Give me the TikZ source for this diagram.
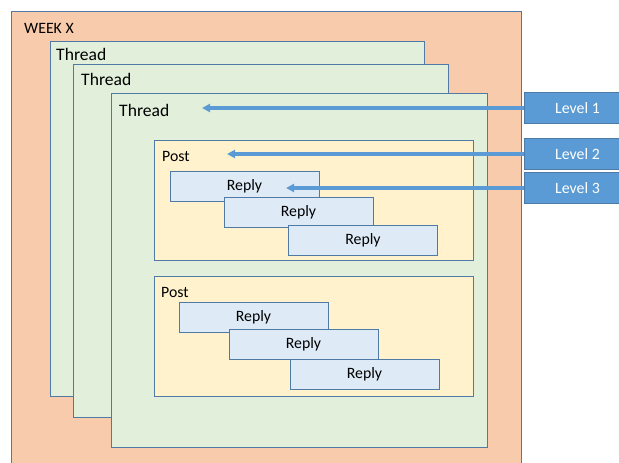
\documentclass[tikz,border=0pt]{standalone}
\usepackage{fontspec}
\setmainfont{Carlito}
\usetikzlibrary{arrows.meta}
\definecolor{edge}{HTML}{4F7AA6}
\definecolor{weekfill}{HTML}{F8CBAD}
\definecolor{threadfill}{HTML}{E2EFDA}
\definecolor{postfill}{HTML}{FFF2CC}
\definecolor{replyfill}{HTML}{DEEBF7}
\definecolor{levelfill}{HTML}{5B9BD5}

\begin{document}
\begin{tikzpicture}[x=0.03cm,y=-0.03cm,>={Triangle[length=7pt,width=7pt]},every node/.style={font=\fontsize{13.5}{16}\selectfont},
box/.style={draw=edge,line width=0.8pt},tag/.style={anchor=base west,inner sep=0pt},
reply/.style={box,fill=replyfill,minimum width=4.47cm,minimum height=0.9cm,inner sep=0pt},
level/.style={box,fill=levelfill,text=white,minimum width=3.21cm,minimum height=0.93cm,inner sep=0pt},
link/.style={->,draw=levelfill,line width=3pt}]
\clip (0,0) rectangle (619,462);
% nested boxes
\draw[box,fill=weekfill] (11,11) rectangle (521,475);
\node[tag] (week) at (24,33) {WEEK X};
\draw[box,fill=threadfill] (50,41) rectangle (424,396);
\node[tag,font=\fontsize{15}{18}\selectfont] (thread1) at (56,60) {Thread};
\draw[box,fill=threadfill] (73,64) rectangle (448,417);
\node[tag,font=\fontsize{15}{18}\selectfont] (thread2) at (81,85) {Thread};
\draw[box,fill=threadfill] (111,93) rectangle (487,447);
\node[tag,font=\fontsize{15}{18}\selectfont] (thread3) at (119,116) {Thread};
% first post
\draw[box,fill=postfill] (154,140) rectangle (473,260);
\node[tag] (post1) at (162,161) {Post};
\node[reply] (r11) at (244.5,186) {Reply};
\node[reply] (r12) at (298.5,212.5) {Reply};
\node[reply] (r13) at (363,240.5) {Reply};
% second post
\draw[box,fill=postfill] (154,276) rectangle (473,396);
\node[tag] (post2) at (161,297) {Post};
\node[reply] (r21) at (253.5,317) {Reply};
\node[reply] (r22) at (303.5,344.5) {Reply};
\node[reply] (r23) at (364.5,374.5) {Reply};
% levels
\node[level] (lv1) at (577.5,108) {Level 1};
\node[level] (lv2) at (577.5,154) {Level 2};
\node[level] (lv3) at (577.5,188) {Level 3};
\coordinate (t1) at (202,108);\coordinate (t2) at (227,154);\coordinate (t3) at (286,188);
\draw[link] (lv1.west)--(t1);
\draw[link] (lv2.west)--(t2);
\draw[link] (lv3.west)--(t3);
\end{tikzpicture}
\end{document}
